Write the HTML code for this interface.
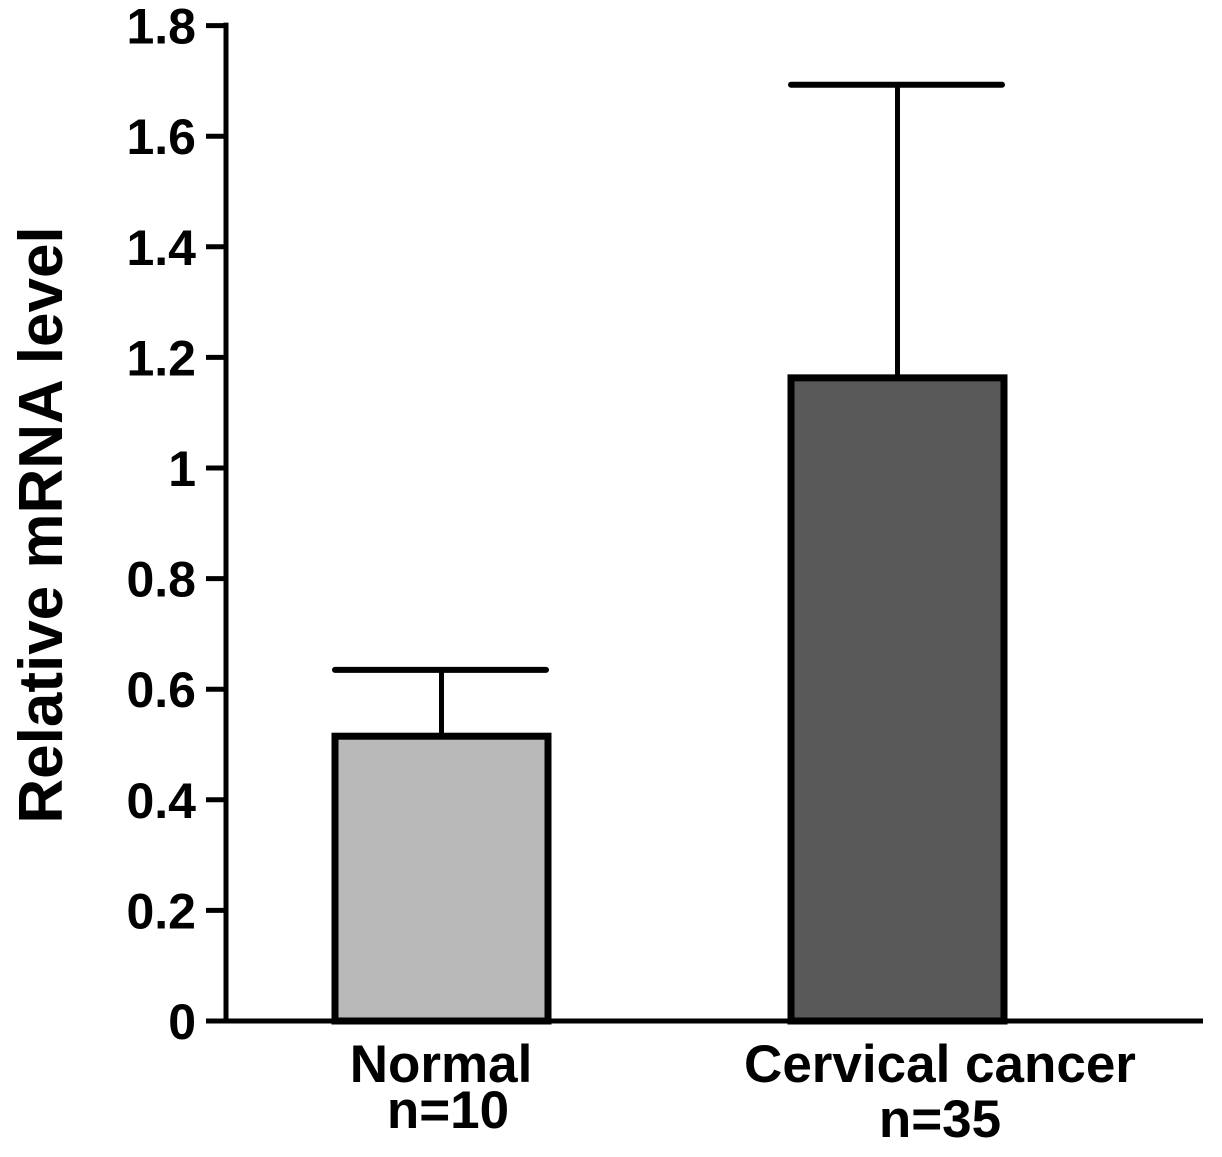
<!DOCTYPE html>
<html><head><meta charset="utf-8"><style>
body{margin:0;background:#fff;}
svg{display:block;font-family:"Liberation Sans",Arial,sans-serif;font-weight:bold;}
</style></head><body>
<svg id="chart" width="1222" height="1157" viewBox="0 0 1222 1157" xmlns="http://www.w3.org/2000/svg"></svg>
<script>
const categories = ["Normal", "Cervical cancer"];
const sublabels = ["n=10", "n=35"];
const means = [0.515, 1.163];
const errors = [0.12, 0.53];
const tickValues = [0, 0.2, 0.4, 0.6, 0.8, 1, 1.2, 1.4, 1.6, 1.8];
const tickLabels = ["0", "0.2", "0.4", "0.6", "0.8", "1", "1.2", "1.4", "1.6", "1.8"];
const fills = ["#b9b9b9", "#595959"];

const NS = "http://www.w3.org/2000/svg";
const svg = document.getElementById("chart");
const y0 = 1021, pxPerUnit = 553;
function yScale(v){ return y0 - v * pxPerUnit; }
const barLeft = [335, 791], barW = 213;
const labelX = [441, 940];
const subX = [448, 940];
const subY = [1128, 1137];
function xCenter(i){ return barLeft[i] + barW / 2; }
function mk(tag, attrs){ const e = document.createElementNS(NS, tag); for (const k in attrs) e.setAttribute(k, attrs[k]); svg.appendChild(e); return e; }

const yAxis = mk("line", {x1:226, y1:yScale(1.8)-3, x2:226, y2:y0+2, stroke:"#000", "stroke-width":5});


const xAxis = mk("line", {x1:206, y1:y0, x2:1203, y2:y0, stroke:"#000", "stroke-width":5});



tickValues.forEach((v, i) => {
  const t = mk("line", {x1:206, y1:yScale(v), x2:226, y2:yScale(v), stroke:"#000", "stroke-width":5});
  
  
  const l = mk("text", {x:196, y:yScale(v)+18, "text-anchor":"end", "font-size":50});
  l.textContent = tickLabels[i];
  
  
});

const title = mk("text", {x:0, y:0, "text-anchor":"middle", "font-size":62, transform:"translate(62,525) rotate(-90)"});
title.textContent = "Relative mRNA level";



means.forEach((m, i) => {
  const cx = xCenter(i);
  const top = yScale(m + errors[i]);
  const stem = mk("line", {x1:cx, y1:yScale(m), x2:cx, y2:top, stroke:"#000", "stroke-width":5});
  
  
  const cap = mk("line", {x1:barLeft[i], y1:top, x2:barLeft[i]+barW-2, y2:top, stroke:"#000", "stroke-width":6, "stroke-linecap":"round"});
  
  
  const bar = mk("rect", {x:barLeft[i], y:yScale(m), width:barW, height:y0-yScale(m), fill:fills[i], stroke:"#000", "stroke-width":7});
  
  
  const l1 = mk("text", {x:labelX[i], y:1082, "text-anchor":"middle", "font-size":53});
  l1.textContent = categories[i];
  
  
  const l2 = mk("text", {x:subX[i], y:subY[i], "text-anchor":"middle", "font-size":53});
  l2.textContent = sublabels[i];
  
  
});
</script>
</body></html>
